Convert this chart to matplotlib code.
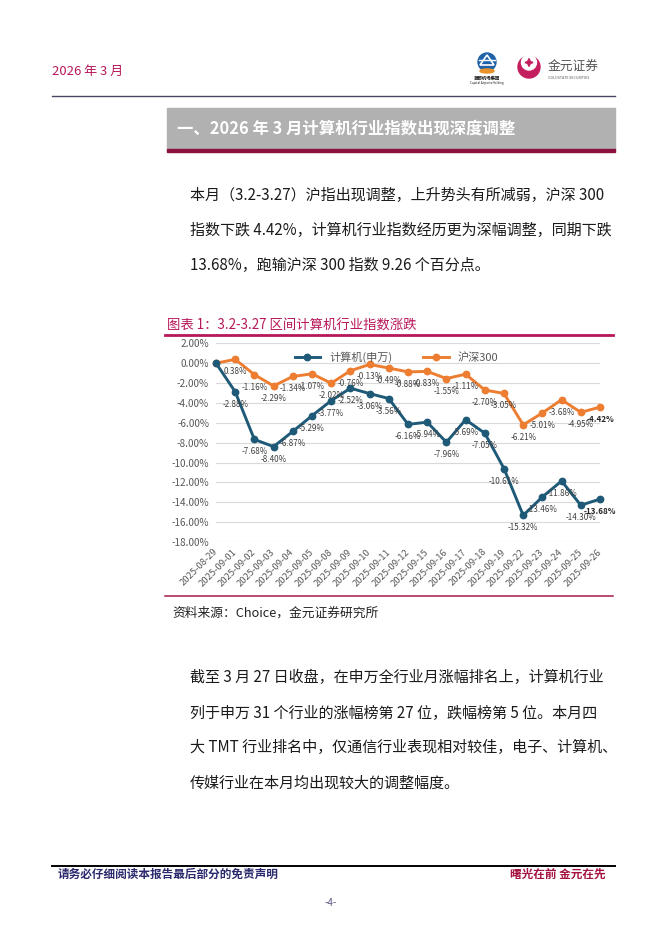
import matplotlib
matplotlib.use('Agg')
import matplotlib.pyplot as plt
from matplotlib.patches import Rectangle, Circle, Ellipse, Polygon
import numpy as np

plt.rcParams['font.family'] = ['Noto Sans CJK SC', 'DejaVu Sans']

# ---------------- data ----------------
dates = ['2025-08-29', '2025-09-01', '2025-09-02', '2025-09-03', '2025-09-04',
         '2025-09-05', '2025-09-08', '2025-09-09', '2025-09-10', '2025-09-11',
         '2025-09-12', '2025-09-15', '2025-09-16', '2025-09-17', '2025-09-18',
         '2025-09-19', '2025-09-22', '2025-09-23', '2025-09-24', '2025-09-25',
         '2025-09-26']
computer = [0.00, -2.88, -7.68, -8.40, -6.87, -5.29, -3.77, -2.52, -3.06, -3.56,
            -6.16, -5.94, -7.96, -5.69, -7.05, -10.61, -15.32, -13.46, -11.86,
            -14.30, -13.68]
hs300 = [0.00, 0.38, -1.16, -2.29, -1.34, -1.07, -2.02, -0.76, -0.13, -0.49,
         -0.88, -0.83, -1.55, -1.11, -2.70, -3.05, -6.21, -5.01, -3.68,
         -4.95, -4.42]
series_names = ['计算机(申万)', '沪深300']
yticks = [2, 0, -2, -4, -6, -8, -10, -12, -14, -16, -18]

header_date = '2026 年 3 月'
section_title = '一、2026 年 3 月计算机行业指数出现深度调整'
para1 = ['本月（3.2-3.27）沪指出现调整，上升势头有所减弱，沪深 300',
         '指数下跌 4.42%，计算机行业指数经历更为深幅调整，同期下跌',
         '13.68%，跑输沪深 300 指数 9.26 个百分点。']
para2 = ['截至 3 月 27 日收盘，在申万全行业月涨幅排名上，计算机行业',
         '列于申万 31 个行业的涨幅榜第 27 位，跌幅榜第 5 位。本月四',
         '大 TMT 行业排名中，仅通信行业表现相对较佳，电子、计算机、',
         '传媒行业在本月均出现较大的调整幅度。']
caption = '图表 1：3.2-3.27 区间计算机行业指数涨跌'
source = '资料来源：Choice，金元证券研究所'
footer_left = '请务必仔细阅读本报告最后部分的免责声明'
footer_right = '曙光在前 金元在先'
page_no = '-4-'

# ---------------- page ----------------
W, H = 662, 936
fig = plt.figure(figsize=(W / 100, H / 100), dpi=100)
fig.patch.set_facecolor('white')
bg = fig.add_axes([0, 0, 1, 1], zorder=0)
bg.set_xlim(0, W)
bg.set_ylim(H, 0)
bg.axis('off')

MAG = '#B8175A'

# header
bg.text(52, 71, header_date, color=MAG, fontsize=9.4, va='center', ha='left')
bg.plot([52, 615], [96, 96], color='#4A4560', lw=1)

# logo 1 (airport group)
bg.add_patch(Circle((487, 62), 9, color='#1F62A8'))
bg.add_patch(Polygon([[480, 65], [487, 55], [494, 65]], closed=True, fill=False,
                     ec='white', lw=1.2))
bg.plot([479, 495], [60, 60], color='white', lw=1)
bg.add_patch(Ellipse((487, 71), 14, 4, color='#E9922B'))
bg.text(487, 78, '首都机场集团', fontsize=3.2, ha='center', va='center',
        color='#1a1a1a', fontweight='bold')
bg.text(487, 83, 'Capital Airports Holding', fontsize=2.2, ha='center',
        va='center', color='#1a1a1a')

# logo 2 (Goldstate crescent)
bg.add_patch(Circle((529, 67), 11, color='#C41E5E'))
bg.add_patch(Ellipse((529, 62.5), 15, 15, color='white'))
bg.add_patch(Polygon([[529, 58.5], [530.3, 61.5], [533, 62.5], [530.3, 63.5],
                      [529, 66.5], [527.7, 63.5], [525, 62.5], [527.7, 61.5]],
                     closed=True, color='#C41E5E'))
bg.text(548, 66, '金元证券', fontsize=9.2, ha='left', va='center', color='#555555')
bg.text(548, 78, 'GOLDSTATE SECURITIES', fontsize=2.6, ha='left', va='center',
        color='#555555')

# section title bar
bg.add_patch(Rectangle((167, 108), 448, 42, color='#B1B1B1'))
bg.add_patch(Rectangle((167, 149), 448, 3, color='#8B1140'))
bg.text(177, 129, section_title, color='white', fontsize=11.8, fontweight='bold',
        va='center', ha='left')

# paragraph 1
for i, line in enumerate(para1):
    bg.text(190, 196 + i * 34.5, line, fontsize=10.85, color='#1a1a1a',
            va='center', ha='left')

# caption
bg.text(167, 326, caption, color=MAG, fontsize=9.6, va='center', ha='left')
bg.plot([165, 613], [335, 335], color=MAG, lw=2)
bg.plot([165, 613], [596, 596], color='#A31A4E', lw=1.1)
bg.text(172, 613, source, color='#222222', fontsize=9.2, va='center', ha='left')

# paragraph 2
for i, line in enumerate(para2):
    bg.text(190, 678 + i * 35, line, fontsize=10.85, color='#1a1a1a',
            va='center', ha='left')

# footer
bg.plot([52, 615], [866, 866], color='black', lw=1.4)
bg.text(58, 874, footer_left, color='#2B2A6E', fontsize=8.4, fontweight='bold',
        va='center', ha='left')
bg.text(606, 874, footer_right, color='#A5123F', fontsize=8.4, fontweight='bold',
        va='center', ha='right')
bg.text(331, 903, page_no, color='#5E5A80', fontsize=7, va='center', ha='center')

# ---------------- chart ----------------
ax_l, ax_r, ax_t, ax_b = 216, 600, 343.3, 542
ax = fig.add_axes([ax_l / W, 1 - ax_b / H, (ax_r - ax_l) / W, (ax_b - ax_t) / H],
                  zorder=1)
ax.patch.set_alpha(0)
x = np.arange(len(dates))
c1, c2 = '#1E5A78', '#ED7D31'
ax.plot(x, computer, color=c1, lw=2.1, marker='o', ms=4.6, label=series_names[0],
        zorder=4, clip_on=False)
ax.plot(x, hs300, color=c2, lw=2.1, marker='o', ms=4.6, label=series_names[1],
        zorder=3, clip_on=False)

ax.set_xlim(0, len(dates) - 1)
ax.set_ylim(-18, 2)
ax.set_yticks(yticks)
ax.set_yticklabels([f'{t:.2f}%' for t in yticks])
ax.tick_params(axis='y', length=0, pad=5, labelsize=7.2, labelcolor='#595959')
ax.set_xticks(x)
ax.set_xticklabels(dates, rotation=45, ha='right', va='center',
                   rotation_mode='anchor', fontsize=6.8, color='#595959')
ax.tick_params(axis='x', length=0, pad=6)
ax.grid(axis='y', color='#D9D9D9', lw=0.8)
ax.set_axisbelow(True)
for s in ax.spines.values():
    s.set_visible(False)

last = len(dates) - 1
for series in (computer, hs300):
    for i in range(1, len(series)):
        v = series[i]
        bold = (i == last)
        ax.annotate(f'{v:.2f}%', (x[i], v), xytext=(0, -9),
                    textcoords='offset points', ha='center', va='center',
                    fontsize=5.8, color='#262626' if bold else '#404040',
                    fontweight='bold' if bold else 'normal', zorder=5,
                    annotation_clip=False)

ax.legend(loc='upper center', bbox_to_anchor=(0.47, 1.0), ncol=2, frameon=False,
          fontsize=8, handlelength=2.3, columnspacing=2.8, labelcolor='#595959',
          borderaxespad=0.3)

fig.savefig('out.png', dpi=100, facecolor='white')
